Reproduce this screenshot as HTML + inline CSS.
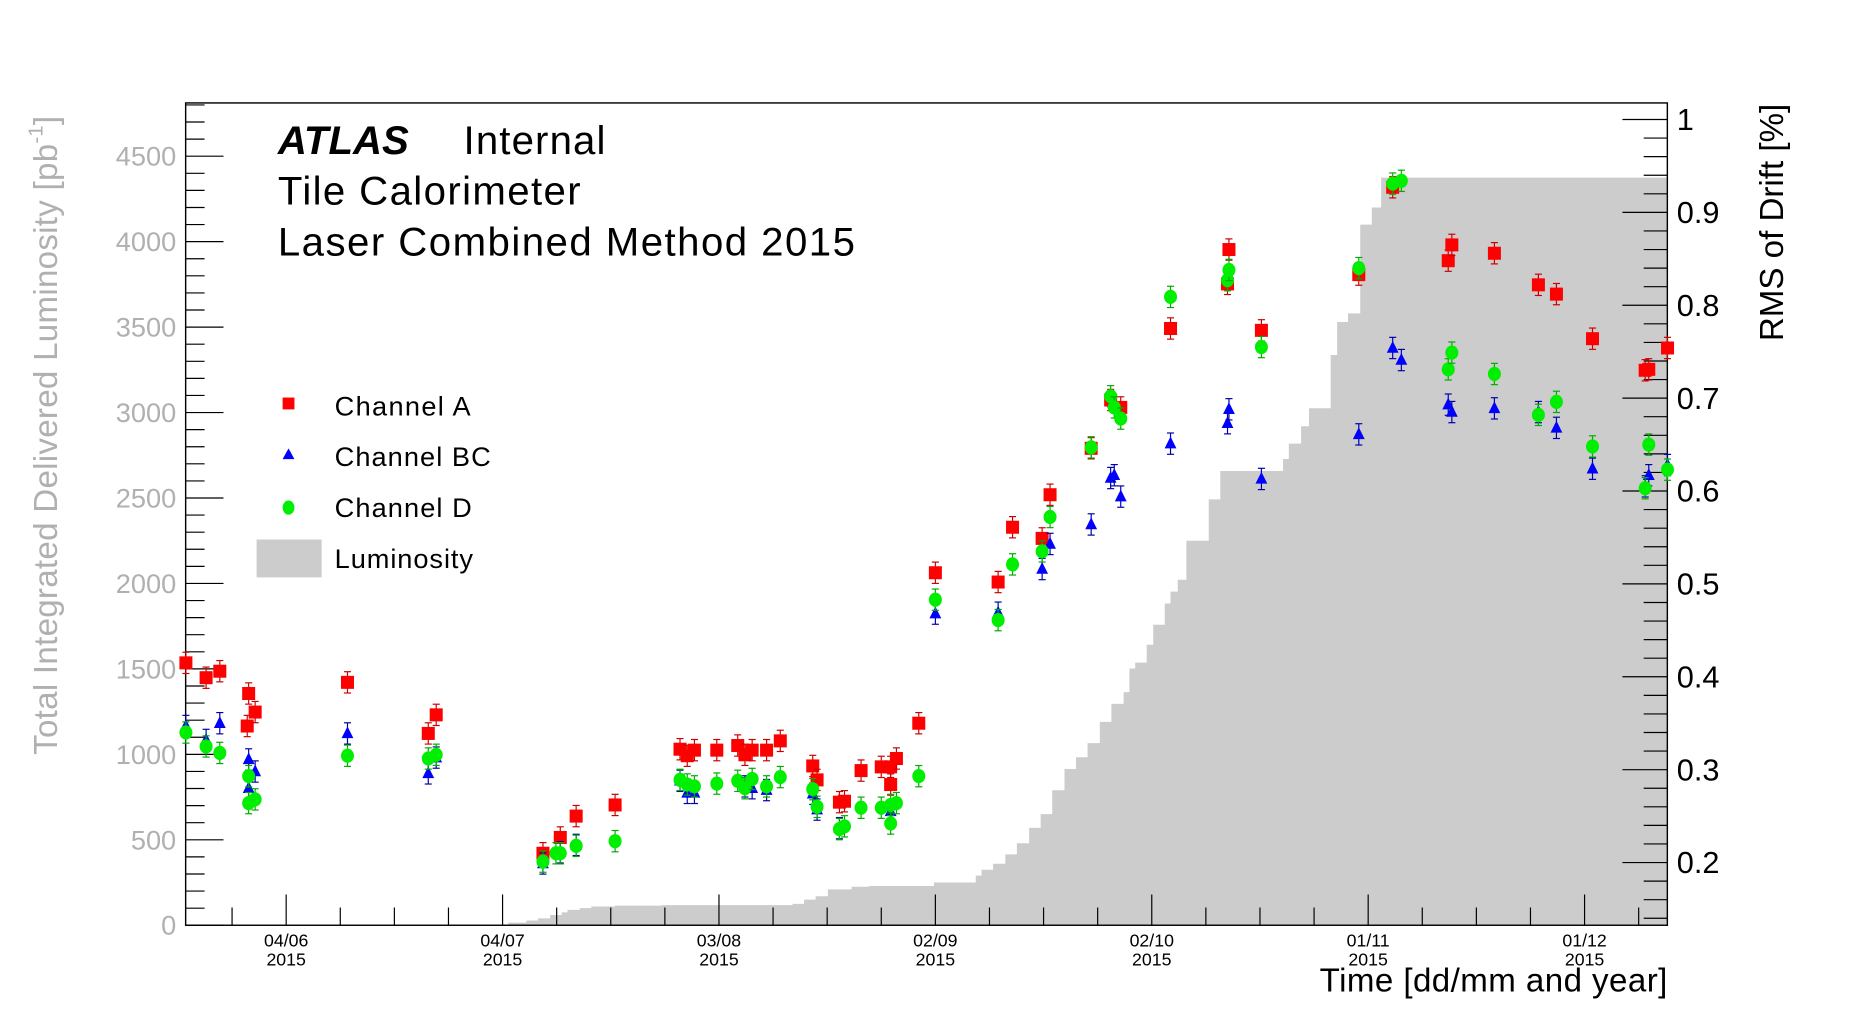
<!DOCTYPE html>
<html><head><meta charset="utf-8">
<style>
html,body{margin:0;padding:0;background:#fff;}
svg{display:block;font-family:"Liberation Sans",Arial,sans-serif;}
</style></head>
<body>
<svg id="chart" width="1853" height="1027" viewBox="0 0 1567 868" preserveAspectRatio="none" xmlns="http://www.w3.org/2000/svg">
<g id="lumi"></g>
<g id="axes"></g>
<g id="marks"></g>
<text x="235" y="130" font-size="34" font-weight="bold" font-style="italic">ATLAS</text>
<text x="392" y="130" font-size="34" textLength="120">Internal</text>
<text x="235" y="173" font-size="34" textLength="256">Tile Calorimeter</text>
<text x="235" y="216" font-size="34" textLength="488">Laser Combined Method 2015</text>
<g>
<rect x="239" y="336" width="10" height="10" fill="#ff0000"/>
<text x="283" y="351" font-size="23" textLength="115">Channel A</text>
<polygon points="244,379 249,388 239,388" fill="#0000ff"/>
<text x="283" y="394" font-size="23" textLength="132">Channel BC</text>
<ellipse cx="244" cy="429" rx="5" ry="6" fill="#00ee00"/>
<text x="283" y="437" font-size="23" textLength="116">Channel D</text>
<rect x="217" y="456" width="55" height="32" fill="#cccccc"/>
<text x="283" y="480" font-size="23" textLength="117">Luminosity</text>
</g>
<text x="1410" y="838" font-size="28" text-anchor="end" textLength="294">Time [dd/mm and year]</text>
<text transform="translate(48,368) rotate(-90)" font-size="28" fill="#b0b0b0" text-anchor="middle" textLength="540">Total Integrated Delivered Luminosity [pb<tspan font-size="17" dy="-12">-1</tspan><tspan dy="12">]</tspan></text>
<text transform="translate(1508,188) rotate(-90)" font-size="28" text-anchor="middle">RMS of Drift [%]</text>
</svg>
<script>
// ---- data (x in days relative to 04/06/2015) ----
const lumiDays = [8.7,30.8,33.3,34.9,36.6,38.2,39.0,40.7,42.3,45.6,52.1,70.2,71.8,73.4,75.1,78.4,80.8,89.8,95.6,96.4,98.0,99.7,101.3,103.0,104.6,106.2,107.9,109.5,111.1,112.8,114.4,116.1,116.9,117.7,119.3,120.2,121.8,122.6,123.6,124.8,127.9,129.5,138.2,139.0,140.7,141.8,144.8,145.7,147.2,148.9,150.5,151.8];
const lumiValues = [3,15,28,40,60,75,90,100,110,115,118,125,150,170,210,225,230,250,290,325,360,415,480,570,650,790,914,983,1066,1190,1295,1364,1502,1537,1641,1758,1883,1952,2022,2250,2492,2658,2728,2818,2920,3025,3337,3530,3580,4100,4200,4375];
const aDays = [-13.9,-11.1,-9.2,-5.2,-5.4,-4.3,8.5,19.7,20.8,35.6,38.0,40.2,45.6,54.6,55.6,56.6,59.7,62.6,63.6,64.6,66.6,68.5,73.0,73.6,76.7,77.4,79.7,82.5,83.8,83.8,84.6,87.7,90.0,98.7,100.7,104.8,105.9,111.6,114.3,115.7,122.6,130.5,130.7,135.2,148.7,153.4,161.1,161.6,167.5,173.6,176.1,181.1,188.4,188.9,191.5];
const aValues = [0.415,0.399,0.406,0.382,0.347,0.362,0.394,0.339,0.359,0.210,0.227,0.250,0.262,0.322,0.315,0.321,0.321,0.326,0.316,0.321,0.321,0.331,0.304,0.289,0.265,0.266,0.299,0.303,0.303,0.284,0.312,0.350,0.512,0.502,0.561,0.549,0.596,0.646,0.698,0.690,0.775,0.823,0.860,0.773,0.833,0.927,0.848,0.865,0.856,0.822,0.812,0.764,0.730,0.731,0.754];
const bcDays = [-13.9,-11.1,-9.2,-5.2,-5.2,-4.3,8.5,19.7,20.8,35.6,38.0,40.2,54.6,55.6,56.6,63.6,64.6,66.6,73.0,73.6,76.7,83.8,90.0,98.7,104.8,105.9,111.6,114.3,114.8,115.7,122.6,130.5,130.7,135.2,148.7,153.4,154.6,161.1,161.6,167.5,173.6,176.1,181.1,188.4,188.9,191.5];
const bcValues = [0.347,0.332,0.350,0.311,0.280,0.298,0.339,0.296,0.313,0.199,0.211,0.219,0.288,0.275,0.275,0.282,0.280,0.278,0.274,0.257,0.237,0.255,0.468,0.469,0.516,0.543,0.564,0.614,0.617,0.594,0.651,0.673,0.688,0.613,0.661,0.754,0.741,0.693,0.685,0.689,0.685,0.668,0.624,0.605,0.617,0.628];
const dDays = [-13.9,-11.1,-9.2,-5.2,-5.2,-4.3,8.5,19.7,20.8,35.6,37.4,38.0,40.2,45.6,54.6,55.6,56.6,59.7,62.6,63.6,64.6,66.6,68.5,73.0,73.6,76.7,77.4,79.7,82.5,83.8,83.8,84.6,87.7,90.0,98.7,100.7,104.8,105.9,111.6,114.3,114.8,115.7,122.6,130.5,130.7,135.2,148.7,153.4,154.6,161.1,161.6,167.5,173.6,176.1,181.1,188.4,188.9,191.5];
const dValues = [0.340,0.325,0.318,0.264,0.293,0.268,0.315,0.312,0.316,0.201,0.210,0.210,0.218,0.223,0.289,0.284,0.282,0.285,0.288,0.280,0.290,0.282,0.292,0.279,0.260,0.236,0.239,0.259,0.259,0.262,0.242,0.264,0.293,0.483,0.461,0.521,0.535,0.572,0.647,0.702,0.690,0.678,0.809,0.827,0.838,0.755,0.840,0.931,0.934,0.731,0.749,0.726,0.682,0.696,0.648,0.603,0.650,0.623];
const leftTicks = [0,500,1000,1500,2000,2500,3000,3500,4000,4500];
const rightTicks = [0.2,0.3,0.4,0.5,0.6,0.7,0.8,0.9,1];
const dateDays = [0,30,60,90,120,150,180];
const dateLabels = ["04/06","04/07","03/08","02/09","02/10","01/11","01/12"];

// ---- scales ----
const X0=157, X1=1410, Y0=87, Y1=782;
const xS = d => 242 + d*6.1;
const yL = v => 782 - v*0.14444;
const yR = v => 729 - (v-0.2)*785;
const NS="http://www.w3.org/2000/svg";
function mk(tag, attrs, parent){const e=document.createElementNS(NS,tag);for(const k in attrs)e.setAttribute(k,attrs[k]);parent.appendChild(e);return e;}

// luminosity step histogram
const lg=document.getElementById('lumi');
let p=`M${xS(lumiDays[0])},${Y1}`;
for(let i=0;i<lumiDays.length;i++){
  const xa=xS(lumiDays[i]); const xb = i+1<lumiDays.length?xS(lumiDays[i+1]):X1;
  p+=` L${xa},${yL(lumiValues[i])} L${xb},${yL(lumiValues[i])}`;
}
p+=` L${X1},${Y1} Z`;
const lp=mk('path',{d:p,fill:'#cccccc'},lg);



// axes
const ax=document.getElementById('axes');
const fr=mk('rect',{x:X0,y:Y0,width:X1-X0,height:Y1-Y0,fill:'none',stroke:'#000','stroke-width':1.2},ax);


for(let v=0;v<=4800;v+=100){
  const y=yL(v); if(y<Y0) break;
  const major=v%500===0;
  mk('line',{x1:X0,x2:X0+(major?32:16),y1:y,y2:y,stroke:'#000','stroke-width':1},ax);
}
leftTicks.forEach(v=>{
  const t=mk('text',{x:149,y:yL(v)+8,'font-size':23,fill:'#b0b0b0','text-anchor':'end'},ax);
  t.textContent=v;
  
  
});
for(let i=7;i<=51;i++){
  const v=i*0.02; const y=yR(v); if(y>Y1||y<Y0) continue;
  const major=i%5===0;
  mk('line',{x1:X1,x2:X1-(major?38:20),y1:y,y2:y,stroke:'#000','stroke-width':1},ax);
}
rightTicks.forEach(v=>{
  const t=mk('text',{x:1418,y:yR(v)+9,'font-size':26},ax);
  t.textContent=(v===1?'1':v.toFixed(1));
  
  
});
for(let d=-7.5;d<=190;d+=7.5){
  const x=xS(d); if(x<=X0||x>=X1) continue;
  const major=Math.abs(d%30)<0.01;
  mk('line',{x1:x,x2:x,y1:Y1,y2:Y1-(major?26:15),stroke:'#000','stroke-width':1},ax);
}
dateDays.forEach((d,i)=>{
  const t=mk('text',{x:xS(d),y:800,'font-size':15,'text-anchor':'middle'},ax);
  t.textContent=dateLabels[i];
  
  
  const t2=mk('text',{x:xS(d),y:816,'font-size':15,'text-anchor':'middle'},ax);
  t2.textContent='2015';
  
  
});

// markers
const mg=document.getElementById('marks');
function err(x,y,c){mk('line',{x1:x,x2:x,y1:y-9,y2:y+9,stroke:c,'stroke-width':1},mg);mk('line',{x1:x-3,x2:x+3,y1:y-9,y2:y-9,stroke:c,'stroke-width':1},mg);mk('line',{x1:x-3,x2:x+3,y1:y+9,y2:y+9,stroke:c,'stroke-width':1},mg);}
aDays.forEach((d,i)=>{
  const x=xS(d),y=yR(aValues[i]); err(x,y,'#cc0000');
  const r=mk('rect',{x:x-5.5,y:y-5.5,width:11,height:11,fill:'#ff0000'},mg);
  
  
});
bcDays.forEach((d,i)=>{
  const x=xS(d),y=yR(bcValues[i]); err(x,y,'#0000aa');
  const r=mk('polygon',{points:`${x},${y-6} ${x+5},${y+4} ${x-5},${y+4}`,fill:'#0000ff'},mg);
  
  
});
dDays.forEach((d,i)=>{
  const x=xS(d),y=yR(dValues[i]); err(x,y,'#00aa00');
  const r=mk('ellipse',{cx:x,cy:y,rx:5.5,ry:6,fill:'#00ee00'},mg);
  
  
});
</script>
</body></html>
